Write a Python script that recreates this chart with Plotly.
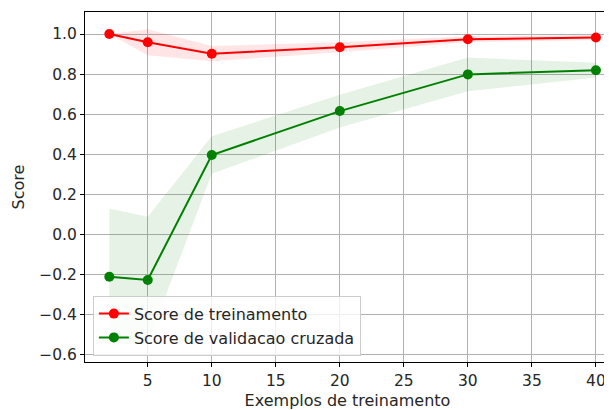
import plotly.graph_objects as go

train_sizes = [2, 5, 10, 20, 30, 40]
train_mean = [1.0, 0.959, 0.902, 0.934, 0.974, 0.983]
train_std = [0.0, 0.065, 0.038, 0.025, 0.015, 0.012]
val_mean = [-0.21, -0.226, 0.397, 0.616, 0.799, 0.82]
val_std = [0.34, 0.315, 0.093, 0.082, 0.084, 0.037]

xticks = [5, 10, 15, 20, 25, 30, 35, 40]
yticks = [-0.6, -0.4, -0.2, 0.0, 0.2, 0.4, 0.6, 0.8, 1.0]

font = "DejaVu Sans"
fig = go.Figure()

def band(mean, std, color):
    upper = [m + s for m, s in zip(mean, std)]
    lower = [m - s for m, s in zip(mean, std)]
    fig.add_trace(go.Scatter(x=train_sizes + train_sizes[::-1], y=upper + lower[::-1],
                             fill="toself", fillcolor=color, line=dict(width=0),
                             mode="lines", showlegend=False, hoverinfo="skip"))

band(train_mean, train_std, "rgba(255,0,0,0.1)")
band(val_mean, val_std, "rgba(0,128,0,0.1)")

fig.add_trace(go.Scatter(x=train_sizes, y=train_mean, mode="lines+markers",
                         name="Score de treinamento",
                         line=dict(color="red", width=2),
                         marker=dict(color="red", size=10)))
fig.add_trace(go.Scatter(x=train_sizes, y=val_mean, mode="lines+markers",
                         name="Score de validacao cruzada",
                         line=dict(color="green", width=2),
                         marker=dict(color="green", size=10)))

axis_common = dict(showline=True, linecolor="black", linewidth=1, mirror=True,
                   ticks="outside", ticklen=4, tickcolor="black",
                   showgrid=True, gridcolor="#b0b0b0", gridwidth=1, zeroline=False,
                   tickfont=dict(family=font, size=15.5, color="#262626"))

fig.update_xaxes(range=[0.1, 41.1], tickvals=xticks,
                 title=dict(text="Exemplos de treinamento", font=dict(family=font, size=16, color="#262626"), standoff=9),
                 **axis_common)
fig.update_yaxes(range=[-0.635, 1.11], tickvals=yticks, tickformat=".1f",
                 title=dict(text="Score", font=dict(family=font, size=16, color="#262626"), standoff=10),
                 **axis_common)

fig.update_layout(
    width=604, height=402,
    margin=dict(l=77, r=2, t=4, b=48, autoexpand=False),
    plot_bgcolor="white", paper_bgcolor="white",
    font=dict(family=font, size=16, color="#262626"),
    legend=dict(x=0.015, y=0.018, xanchor="left", yanchor="bottom",
                bgcolor="rgba(255,255,255,0.8)", bordercolor="#cccccc", borderwidth=1,
                font=dict(family=font, size=16, color="#262626"), tracegroupgap=0,
                itemwidth=30),
)

fig.write_html("out.html")
